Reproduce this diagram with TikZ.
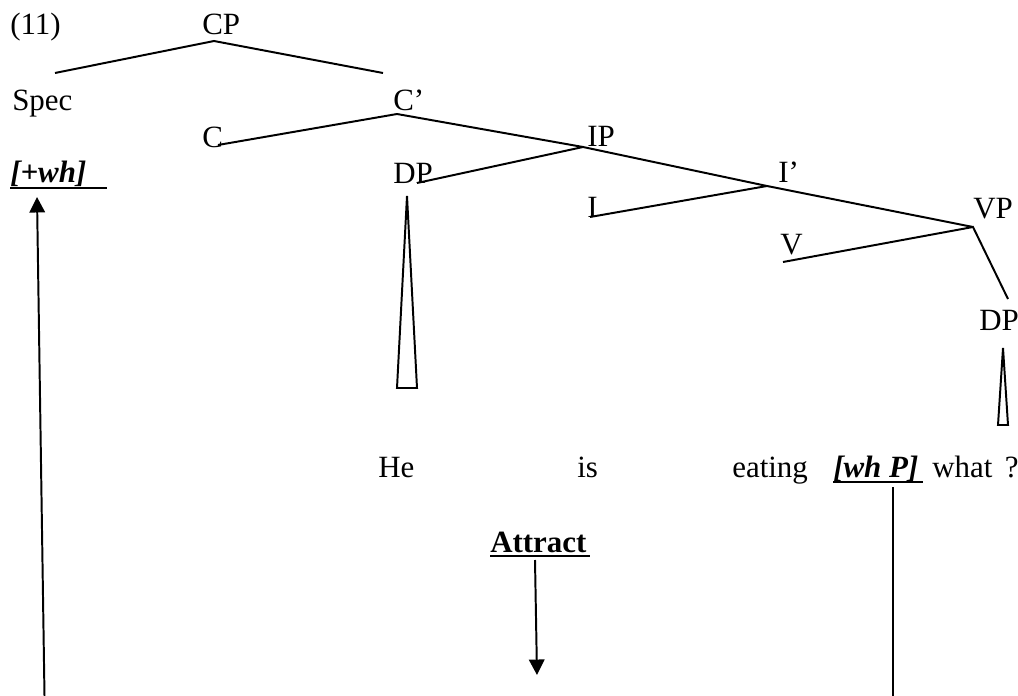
\documentclass[tikz,border=0pt]{standalone}
\usepackage{fontspec}
\setmainfont{Liberation Serif}
\usetikzlibrary{arrows.meta}

\begin{document}
\begin{tikzpicture}[x=0.025cm,y=-0.025cm,
lab/.style={inner sep=0pt,anchor=base west,font=\fontsize{22}{26}\selectfont},
branch/.style={line width=1.4pt},
uline/.style={line width=1.8pt},
move/.style={line width=1.4pt,-{Triangle[length=11pt,width=11pt]}}]
\useasboundingbox(0,0)rectangle(1018,696);
\node[lab](num)at(10,35){(11)};
\node[lab](cp)at(202,35){CP};
\node[lab](spec)at(12,110){Spec};
\node[lab](cbar)at(393,110){C’};
\node[lab](c)at(202,147){C};
\node[lab](ip)at(587,146){IP};
\node[lab](plus)at(10,182){\textbf{\textit{[+wh]}}};
\node[lab](dpa)at(393,183){DP};
\node[lab](ibar)at(778,182){I’};
\node[lab](i)at(587,217){I};
\node[lab](vp)at(973,218){VP};
\node[lab](v)at(780,254){V};
\node[lab](dpb)at(979,330){DP};
\node[lab](he)at(378,477){He};
\node[lab](is)at(577,477){is};
\node[lab](eat)at(732,477){eating};
\node[lab](whp)at(833,477){\textbf{\textit{[wh P]}}};
\node[lab](what)at(932,477){what\hspace{0.4em}?};
\node[lab](attr)at(490,552){\textbf{Attract}};
\draw[branch]([shift={(43,-37)}]spec.base west)--([shift={(12,6)}]cp.base west)--([shift={(-10,-37)}]cbar.base west);
\draw[branch]([shift={(16,-2)}]c.base west)--([shift={(4,4)}]cbar.base west)--([shift={(-4,1)}]ip.base west);
\draw[branch]([shift={(24,0)}]dpa.base west)--([shift={(-4,1)}]ip.base west)--([shift={(-11,4)}]ibar.base west);
\draw[branch]([shift={(3,0)}]i.base west)--([shift={(-11,4)}]ibar.base west)--([shift={(0,9)}]vp.base west);
\draw[branch]([shift={(3,8)}]v.base west)--([shift={(0,9)}]vp.base west)--([shift={(29,-31)}]dpb.base west);
\draw[branch]([shift={(14,13)}]dpa.base west)--([shift={(24,205)}]dpa.base west)--([shift={(4,205)}]dpa.base west)--cycle;
\draw[branch]([shift={(24,18)}]dpb.base west)--([shift={(29,95)}]dpb.base west)--([shift={(19,95)}]dpb.base west)--cycle;
\draw[uline](plus.base west)++(0,6)--++(97,0);
\draw[uline](whp.base west)++(0,5)--++(90,0);
\draw[uline](attr.base west)++(0,4)--++(100,0);
\coordinate(startl)at(44.5,696);
\coordinate(endr)at(893,696);
\coordinate(attrtip)at(537,675);
\draw[move](startl)--([shift={(27,15)}]plus.base west);
\draw[move]([shift={(45,8)}]attr.base west)--(attrtip);
\draw[line width=1.2pt]([shift={(60,10)}]whp.base west)--(endr);
\end{tikzpicture}
\end{document}
